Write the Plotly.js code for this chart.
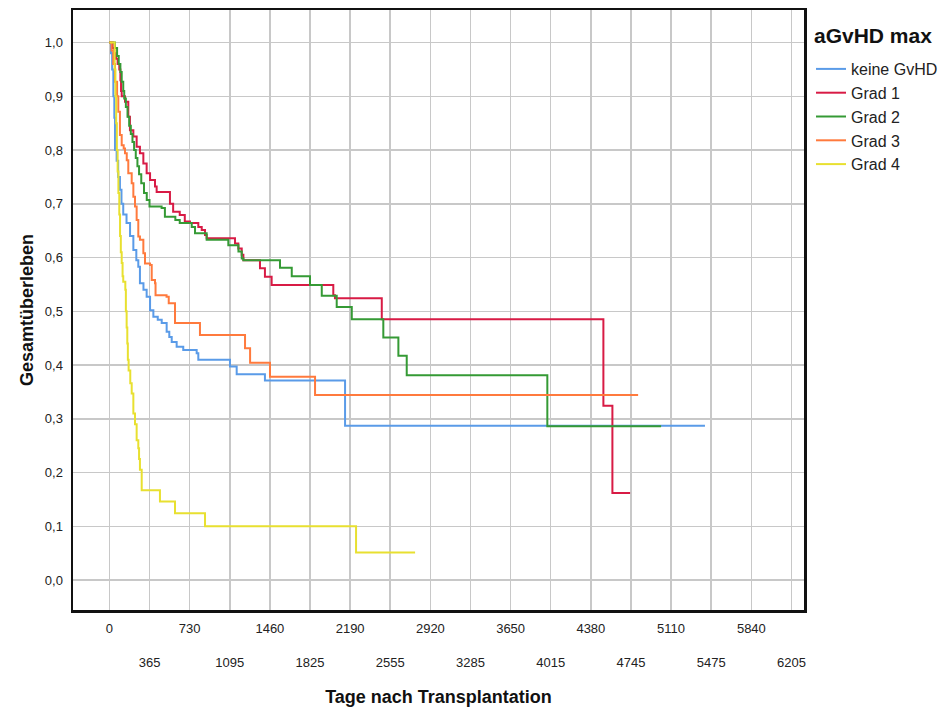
<!DOCTYPE html>
<html>
<head>
<meta charset="utf-8">
<script src="https://cdn.plot.ly/plotly-3.0.1.min.js"></script>
<style>html,body{margin:0;padding:0;background:#fff;}#chart{width:943px;height:715px;}</style>
</head>
<body>
<div id="chart"></div>
<script>
// Kaplan-Meier step data (days after transplantation, overall survival)
const legendTitle = 'aGvHD max';
const seriesNames = ['keine GvHD', 'Grad 1', 'Grad 2', 'Grad 3', 'Grad 4'];

const daysKeine = [0,15,25,36,45,51,66,80,96,110,126,156,188,218,245,263,278,310,339,370,400,440,476,521,545,567,612,672,794,809,1097,1158,1415,2144,5418];
const survKeine = [1.0,0.98,0.95,0.90,0.86,0.80,0.78,0.75,0.726,0.70,0.68,0.664,0.64,0.614,0.595,0.583,0.552,0.54,0.527,0.502,0.49,0.484,0.478,0.462,0.452,0.443,0.434,0.428,0.422,0.41,0.397,0.383,0.371,0.287,0.287];

const daysGrad1 = [0,30,45,60,75,90,100,106,112,142,172,187,218,248,278,309,339,370,415,430,551,580,640,686,733,809,840,870,885,1143,1173,1204,1219,1370,1415,1476,2037,2052,2478,4494,4576,4737];
const survGrad1 = [1.0,0.99,0.98,0.97,0.96,0.95,0.93,0.91,0.90,0.89,0.862,0.837,0.825,0.806,0.794,0.775,0.757,0.744,0.732,0.722,0.70,0.685,0.679,0.667,0.664,0.657,0.651,0.642,0.636,0.626,0.617,0.605,0.595,0.58,0.564,0.549,0.53,0.524,0.485,0.324,0.162,0.162];

const daysGrad2 = [0,50,70,85,100,112,126,135,150,165,180,195,210,225,240,255,270,290,315,340,365,475,505,600,640,749,779,885,1082,1174,1204,1219,1552,1659,1825,1932,2068,2205,2492,2629,2705,3984,5019];
const survGrad2 = [1.0,0.99,0.975,0.96,0.945,0.927,0.91,0.896,0.88,0.862,0.845,0.83,0.815,0.80,0.785,0.77,0.755,0.738,0.72,0.707,0.695,0.692,0.676,0.67,0.664,0.657,0.645,0.633,0.623,0.611,0.598,0.595,0.581,0.565,0.549,0.529,0.508,0.485,0.451,0.417,0.381,0.286,0.286];

const daysGrad3 = [0,20,35,51,70,81,96,112,130,142,158,172,203,218,233,248,263,278,309,324,370,385,415,420,520,540,597,824,1234,1280,1461,1871,4810];
const survGrad3 = [1.0,0.985,0.96,0.927,0.90,0.871,0.828,0.809,0.803,0.794,0.781,0.757,0.738,0.713,0.695,0.67,0.639,0.633,0.608,0.589,0.586,0.558,0.552,0.53,0.527,0.515,0.478,0.456,0.431,0.404,0.378,0.344,0.344];

const daysGrad4 = [0,48,55,62,68,75,82,90,97,104,112,120,126,145,150,157,163,168,175,190,203,218,233,248,263,270,278,294,460,597,870,2244,2781];
const survGrad4 = [1.0,0.95,0.90,0.85,0.80,0.76,0.72,0.68,0.64,0.61,0.59,0.565,0.555,0.54,0.50,0.47,0.44,0.41,0.39,0.366,0.347,0.31,0.29,0.26,0.245,0.225,0.205,0.167,0.146,0.124,0.10,0.051,0.051];

const xTickVals = [0,365,730,1095,1460,1825,2190,2555,2920,3285,3650,4015,4380,4745,5110,5475,5840,6205];
const yTickVals = [0,0.1,0.2,0.3,0.4,0.5,0.6,0.7,0.8,0.9,1.0];
const yTickText = ['0,0','0,1','0,2','0,3','0,4','0,5','0,6','0,7','0,8','0,9','1,0'];

const colors = ['#5a9be8', '#d81b45', '#359a35', '#ff7a3d', '#e8e030'];
const allDays = [daysKeine, daysGrad1, daysGrad2, daysGrad3, daysGrad4];
const allSurv = [survKeine, survGrad1, survGrad2, survGrad3, survGrad4];

const traces = seriesNames.map((name, i) => ({
  type: 'scatter',
  mode: 'lines',
  name: name,
  x: allDays[i],
  y: allSurv[i],
  line: {shape: 'hv', color: colors[i], width: 2},
  hoverinfo: 'skip'
}));

// staggered x tick labels: even ticks on first row, odd ticks on second row
const xTickText = xTickVals.map((v, i) => (i % 2 === 1 ? '<br><br>' + v : String(v)));

const layout = {
  width: 943,
  height: 715,
  margin: {l: 73, r: 139, t: 10, b: 105, autoexpand: false},
  paper_bgcolor: '#ffffff',
  plot_bgcolor: '#ffffff',
  font: {family: 'Liberation Sans, Arial, sans-serif', color: '#222', size: 13},
  showlegend: true,
  legend: {
    x: 1.0096, xanchor: 'left', y: 0.930, yanchor: 'top',
    font: {size: 16, color: '#222'},
    bgcolor: 'rgba(255,255,255,0)',
    itemwidth: 30
  },
  annotations: [{
    text: '<b>' + legendTitle + '</b>',
    xref: 'paper', yref: 'paper', x: 1.011, y: 0.9583,
    xanchor: 'left', yanchor: 'middle', showarrow: false,
    font: {size: 21, color: '#111'}
  }],
  xaxis: {
    range: [-331, 6319],
    tickmode: 'array',
    tickvals: xTickVals,
    ticktext: xTickText,
    ticks: '',
    showgrid: true,
    gridcolor: '#c8c8c8',
    gridwidth: 1.5,
    zeroline: false,
    showline: true,
    linecolor: '#111',
    linewidth: 2.5,
    mirror: true,
    tickfont: {size: 13, color: '#222'},
    ticklabelstandoff: 5,
    title: {text: '<b>Tage nach Transplantation</b>', font: {size: 18, color: '#111'}, standoff: 22}
  },
  yaxis: {
    range: [-0.0558, 1.0605],
    tickmode: 'array',
    tickvals: yTickVals,
    ticktext: yTickText,
    ticks: '',
    showgrid: true,
    gridcolor: '#c8c8c8',
    gridwidth: 1.5,
    zeroline: false,
    showline: true,
    linecolor: '#111',
    linewidth: 2.5,
    mirror: true,
    tickfont: {size: 13, color: '#222'},
    ticklabelstandoff: 5,
    title: {text: '<b>Gesamtüberleben</b>', font: {size: 18, color: '#111'}, standoff: 7}
  }
};

Plotly.newPlot('chart', traces, layout, {staticPlot: true, displayModeBar: false});
</script>
</body>
</html>
